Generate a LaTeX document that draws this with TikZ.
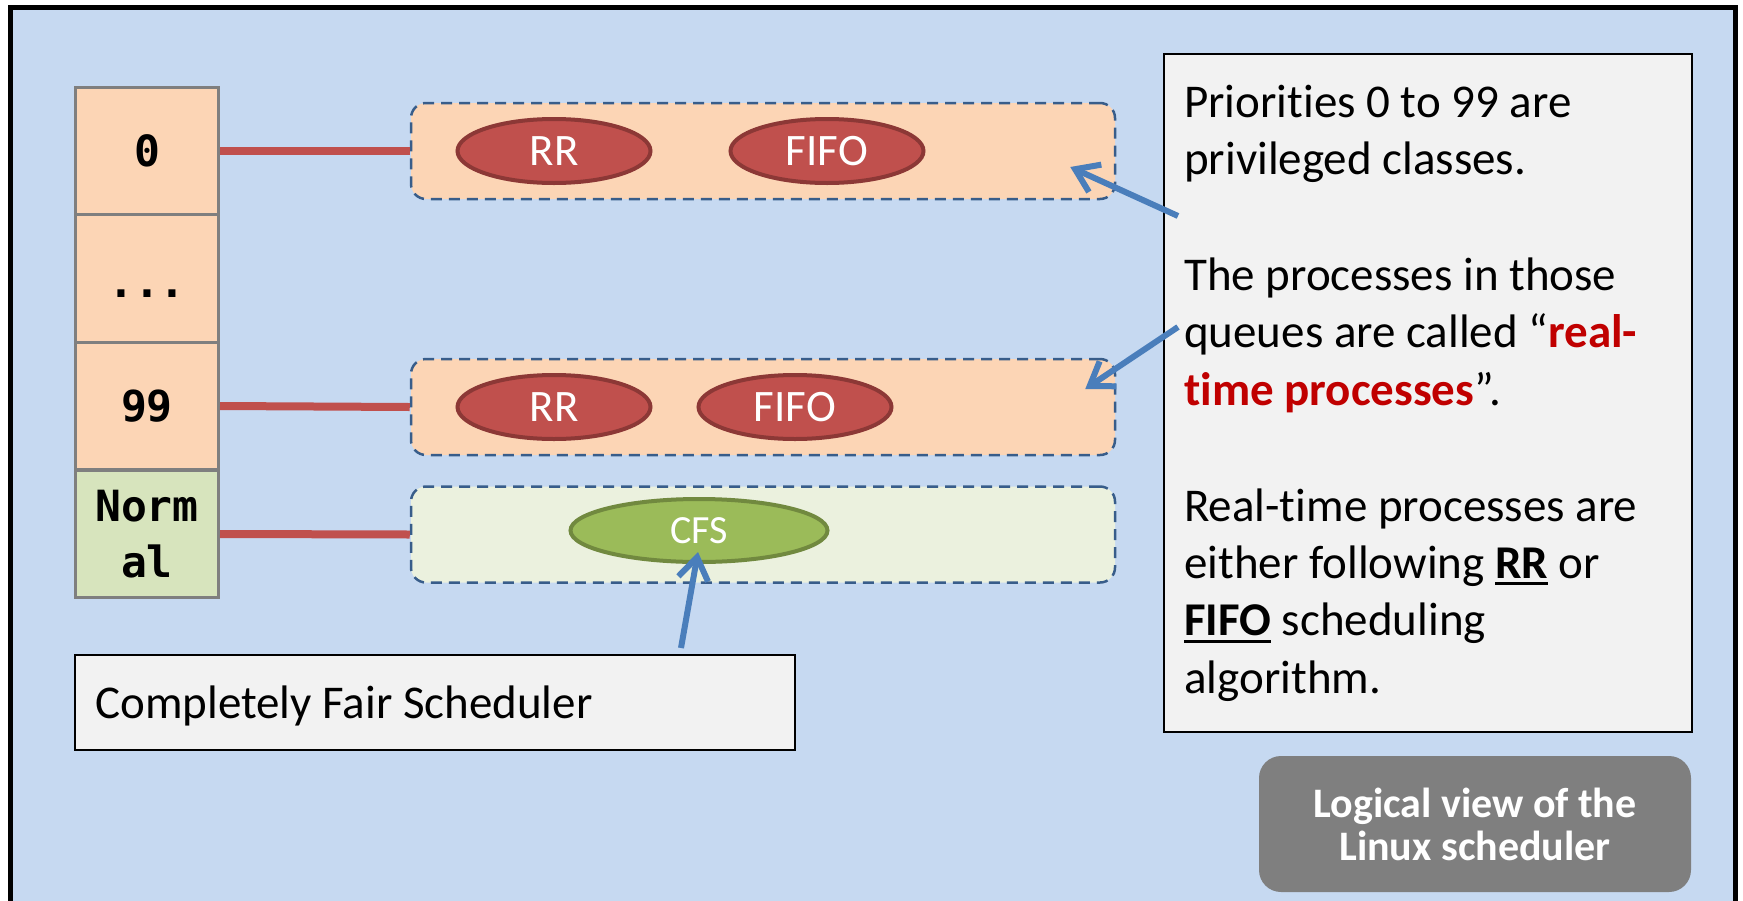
\documentclass[tikz,border=0pt]{standalone}
\usepackage{fontspec}
\setmainfont{Carlito}[Ligatures=NoCommon]
\newfontfamily\cellmono{DejaVu Sans Mono}
\usetikzlibrary{arrows.meta,shapes.geometric,calc}
\definecolor{bgblue}{HTML}{C6D9F1}
\definecolor{peach}{HTML}{FCD5B5}
\definecolor{cellgreen}{HTML}{D7E4BD}
\definecolor{qgreen}{HTML}{EBF1DE}
\definecolor{dashblue}{HTML}{385D8A}
\definecolor{redfill}{HTML}{C0504D}
\definecolor{redborder}{HTML}{8C3836}
\definecolor{greenfill}{HTML}{9BBB59}
\definecolor{greenborder}{HTML}{71893F}
\definecolor{arrowblue}{HTML}{4A7EBB}
\definecolor{boxgray}{HTML}{F2F2F2}
\definecolor{midgray}{HTML}{7F7F7F}
\definecolor{rtred}{HTML}{C00000}
\newsavebox\ulbox
\newcommand\myul[1]{\sbox\ulbox{#1}\rlap{\rule[-7pt]{\wd\ulbox}{3pt}}\usebox\ulbox}
\begin{document}
\begin{tikzpicture}[x=1pt,y=-1pt,
  cellbox/.style={draw=midgray, line width=3pt, fill=peach, minimum width=143pt,
    minimum height=127.5pt, inner sep=0pt,
    font=\cellmono\bfseries\fontsize{43}{56}\selectfont},
  oneline/.style={text height=31pt, text depth=0pt},
  queuebox/.style={draw=dashblue, line width=2.5pt, dash pattern=on 11pt off 7pt,
    rounded corners=15pt, minimum width=704pt, minimum height=96pt, inner sep=0pt},
  redell/.style={ellipse, draw=redborder, fill=redfill, line width=4pt,
    minimum width=193pt, minimum height=64pt, inner sep=0pt, text=white,
    font=\fontsize{45}{54}\selectfont},
  greenell/.style={ellipse, draw=greenborder, fill=greenfill, line width=4pt,
    minimum width=257pt, minimum height=63pt, inner sep=0pt, text=white,
    font=\fontsize{40}{48}\selectfont},
  conn/.style={draw=redfill, line width=8pt},
  infobox/.style={draw=black, line width=2pt, fill=boxgray, inner sep=0pt},
  bodytext/.style={font=\fontsize{47}{57.3}\selectfont},
  blarrow/.style={draw=arrowblue, line width=6pt, -{Straight Barb[length=22pt,width=30pt]}},
  graybox/.style={fill=midgray, rounded corners=22pt, minimum width=432pt,
    minimum height=136pt, inner sep=0pt, text=white, align=center,
    font=\bfseries\fontsize{42}{43}\selectfont}
]
\useasboundingbox (0,0) rectangle (1743,900);
\fill[white] (0,0) rectangle (1743,900);
% outer frame
\draw[line width=5pt, fill=bgblue] (10.5,7) rectangle (1735.5,940);

% priority column
\node[cellbox, oneline] (c0) at (147,151) {0};
\node[cellbox, oneline, text height=37pt] (cdots) at (147,278.5) {...};
\node[cellbox, oneline] (c99) at (147,406) {99};
\node[cellbox, fill=cellgreen, align=center] (cnorm) at (147,534) {Norm\\al};

% queues
\node[queuebox, fill=peach] (q1) at (763,151) {};
\node[queuebox, fill=peach] (q2) at (763,407) {};
\node[queuebox, fill=qgreen] (q3) at (763,534.5) {};

% connectors
\draw[conn] (c0.east) -- (q1.west);
\draw[conn] (c99.east) -- (q2.west);
\draw[conn] (cnorm.east) -- (q3.west);

% processes
\node[redell] (rr1) at (554,151) {RR};
\node[redell] (fifo1) at (827,151) {FIFO};
\node[redell] (rr2) at (554,407) {RR};
\node[redell] (fifo2) at (795,407) {FIFO};
\node[greenell] (cfs) at (699,530.5) {CFS};

% info box
\node[infobox, anchor=north west, minimum width=528pt, minimum height=678pt] (info) at (1163,53) {};
\node[bodytext, anchor=north west, inner sep=0pt, align=left] (infotext) at (1184,76.9) {%
\strut Priorities 0 to 99 are\\
privileged classes.\\[58.7pt]
The processes in those\\
queues are called “\textcolor{rtred}{\textbf{real-}}\\
\textcolor{rtred}{\textbf{time processes}}”.\\[58.7pt]
Real-time processes are\\
either following \myul{\textbf{RR}} or\\
\myul{\textbf{FIFO}} scheduling\\
algorithm.};

% CFS label box
\node[infobox, minimum width=720pt, minimum height=95pt] (lbl) at (435,702.5) {};
\node[bodytext, anchor=base west, inner sep=0pt] (lbltext) at (95,718) {Completely Fair Scheduler};

% gray caption
\node[graybox] (gbox) at (1475,824) {Logical view of the\\Linux scheduler};

% arrows
\coordinate (tail1) at ([xshift=15pt,yshift=177pt]info.west);
\coordinate (tail2) at ([xshift=15pt,yshift=66pt]info.west);
\coordinate (tip1) at ([xshift=-46pt,yshift=-16pt]q1.east);
\coordinate (tip2) at ([xshift=-31pt,yshift=18pt]q2.east);
\coordinate (tail3) at ([xshift=246pt,yshift=6pt]lbl.north);
\coordinate (tip3) at ([xshift=-1pt,yshift=12pt]cfs.south);
\draw[blarrow] (tail1) -- (tip1);
\draw[blarrow] (tail2) -- (tip2);
\draw[blarrow] (tail3) -- (tip3);
\end{tikzpicture}
\end{document}
